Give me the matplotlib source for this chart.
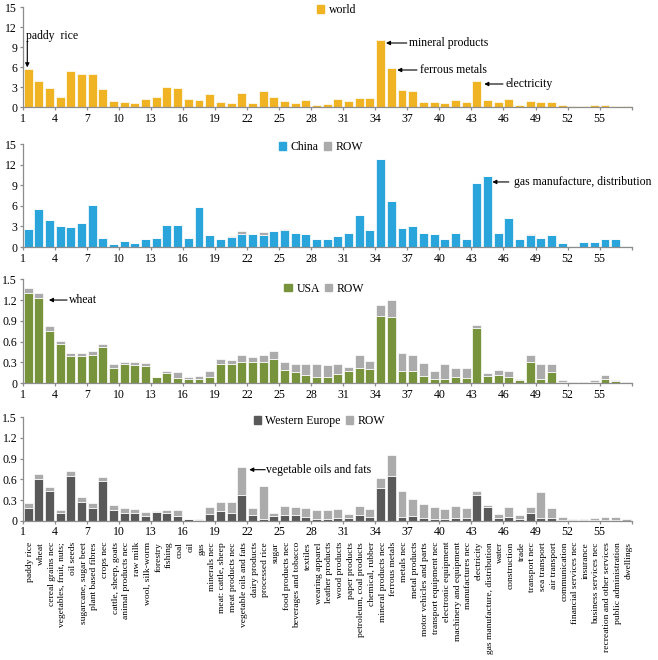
import numpy as np
import matplotlib
matplotlib.use("Agg")
from matplotlib import pyplot as plt
from matplotlib.patches import Patch
from matplotlib.transforms import blended_transform_factory

plt.rcParams['font.family'] = ['Liberation Serif', 'DejaVu Serif']

# 57 GTAP sectors
sectors = ["paddy rice", "wheat", "cereal grains nec", "vegetables, fruit, nuts;", "oil seeds",
           "sugarcane, sugar beet", "plant based fibres", "crops nec", "cattle, sheep, goats",
           "animal products nec", "raw milk", "wool, silk-worm", "forestry", "fishing", "coal",
           "oil", "gas", "minerals nec", "meat: cattle, sheep", "meat products nec",
           "vegetable oils and fats", "dairy products", "processed rice", "sugar",
           "food products nec", "beverages and tobacco", "textiles", "wearing apparel",
           "leather products", "wood products", "paper products", "petroleum, coal products",
           "chemical, rubber", "mineral products nec", "ferrous metals", "metals nec",
           "metal products", "motor vehicles and parts", "transport equipment nec",
           "electronic equipment", "machinery and equipment", "manufactures nec", "electricity",
           "gas manufacture, distribution", "water", "construction", "trade", "transport nec",
           "sea transport", "air transport", "communication", "financial services nec",
           "insurance", "business services nec", "recreation and other services",
           "public administration", "dwellings"]

world = [5.7, 3.9, 2.8, 1.5, 5.4, 5.0, 4.9, 2.7, 0.95, 0.7,
         0.65, 1.15, 1.55, 3.0, 2.8, 1.25, 1.0, 1.9, 0.8, 0.6,
         2.15, 0.6, 2.35, 1.5, 0.9, 0.65, 1.0, 0.35, 0.45, 1.25,
         0.9, 1.4, 1.3, 10.0, 5.9, 2.5, 2.35, 0.75, 0.75, 0.6,
         1.0, 0.75, 3.9, 1.0, 0.7, 1.15, 0.35, 0.95, 0.75, 0.75,
         0.3, 0.2, 0.2, 0.35, 0.3, 0.15, 0.1]

china = [2.6, 5.5, 4.0, 3.05, 2.85, 3.5, 6.1, 1.35, 0.5, 0.85,
         0.6, 1.2, 1.35, 3.2, 3.2, 1.3, 5.85, 1.7, 1.1, 1.5,
         1.9, 1.95, 1.8, 2.35, 2.45, 2.0, 1.9, 1.2, 1.2, 1.55,
         2.0, 4.65, 2.5, 12.85, 6.65, 2.8, 3.05, 2.0, 1.9, 1.1,
         2.1, 1.2, 9.3, 10.35, 2.1, 4.25, 1.15, 1.8, 1.3, 1.75,
         0.55, 0.2, 0.75, 0.75, 1.1, 1.1, 0.2]
china_row = [0, 0, 0, 0, 0, 0, 0, 0, 0, 0,
             0, 0, 0, 0, 0, 0, 0, 0, 0, 0.1,
             0.5, 0, 0.35, 0, 0.15, 0, 0, 0, 0, 0,
             0, 0, 0, 0, 0, 0, 0, 0, 0, 0.1,
             0, 0, 0, 0, 0, 0, 0, 0.1, 0, 0,
             0, 0, 0, 0, 0, 0, 0]

usa = [1.30, 1.23, 0.755, 0.56, 0.39, 0.39, 0.41, 0.52, 0.22, 0.27,
       0.26, 0.24, 0.08, 0.145, 0.07, 0.06, 0.063, 0.087, 0.28, 0.27,
       0.31, 0.31, 0.31, 0.34, 0.19, 0.16, 0.11, 0.08, 0.08, 0.135,
       0.18, 0.22, 0.20, 0.97, 0.96, 0.18, 0.17, 0.10, 0.06, 0.06,
       0.08, 0.07, 0.79, 0.10, 0.12, 0.09, 0.04, 0.31, 0.065, 0.16,
       0.01, 0.005, 0.005, 0.01, 0.06, 0.03, 0.0]
usa_row = [0.07, 0.07, 0.075, 0.05, 0.05, 0.04, 0.05, 0.04, 0.05, 0.04,
           0.04, 0.045, 0.0, 0.025, 0.095, 0.03, 0.034, 0.087, 0.06, 0.06,
           0.10, 0.06, 0.09, 0.12, 0.11, 0.12, 0.16, 0.19, 0.18, 0.145,
           0.05, 0.18, 0.12, 0.16, 0.24, 0.25, 0.23, 0.19, 0.12, 0.21,
           0.14, 0.15, 0.05, 0.045, 0.07, 0.09, 0.02, 0.10, 0.215, 0.11,
           0.03, 0.01, 0.01, 0.03, 0.06, 0.02, 0.01]

weur = [0.19, 0.60, 0.43, 0.11, 0.65, 0.275, 0.18, 0.58, 0.16, 0.115,
        0.115, 0.07, 0.13, 0.11, 0.07, 0.02, 0.015, 0.09, 0.145, 0.115,
        0.38, 0.08, 0.025, 0.075, 0.08, 0.08, 0.05, 0.02, 0.02, 0.04,
        0.035, 0.087, 0.053, 0.47, 0.65, 0.05, 0.063, 0.035, 0.03, 0.02,
        0.04, 0.035, 0.37, 0.20, 0.045, 0.06, 0.03, 0.115, 0.04, 0.045,
        0.01, 0.005, 0.005, 0.005, 0.01, 0.01, 0.0]
weur_row = [0.06, 0.08, 0.06, 0.045, 0.07, 0.065, 0.075, 0.06, 0.07, 0.075,
            0.055, 0.055, 0.015, 0.04, 0.08, 0.005, 0.01, 0.11, 0.12, 0.15,
            0.40, 0.10, 0.475, 0.04, 0.14, 0.115, 0.14, 0.135, 0.135, 0.125,
            0.065, 0.133, 0.12, 0.15, 0.31, 0.385, 0.25, 0.205, 0.17, 0.145,
            0.17, 0.155, 0.065, 0.035, 0.055, 0.14, 0.05, 0.085, 0.37, 0.135,
            0.045, 0.02, 0.025, 0.03, 0.045, 0.045, 0.02]

c_world = '#F0B323'
c_china = '#2AA5DC'
c_usa = '#77933C'
c_weur = '#595959'
c_row = '#ABABAB'
spine_c = '#8C8C8C'

n = len(sectors)
x = np.arange(n) + 0.5
W, H = 658, 660

fig = plt.figure(figsize=(W / 100, H / 100), dpi=100)


def make_ax(y_top, y_zero):
    left, right = 22.7, 631.7
    return fig.add_axes([left / W, 1 - y_zero / H, (right - left) / W, (y_zero - y_top) / H])


def style(ax, ymax, step, labels):
    ax.set_xlim(0, n)
    ax.set_ylim(0, ymax)
    for s in ['top', 'right']:
        ax.spines[s].set_visible(False)
    for s in ['left', 'bottom']:
        ax.spines[s].set_color(spine_c)
        ax.spines[s].set_linewidth(0.9)
    ax.set_yticks(np.arange(0, ymax + step / 2, step))
    ax.set_yticklabels(labels)
    xt = list(range(0, n + 1, 3))
    ax.set_xticks(xt)
    ax.set_xticklabels([str(t + 1) if t < n - 1 else '' for t in xt])
    ax.tick_params(axis='both', color=spine_c, length=2.5, width=0.9, labelsize=8.5, pad=1.5)


def bars(ax, vals, color, bottom=None):
    ax.bar(x, vals, width=0.84, bottom=bottom, color=color, edgecolor='white', linewidth=0.5)


def arrow(ax, tip, tail, text, tx, ty):
    ax.annotate('', xy=tip, xytext=tail,
                arrowprops=dict(arrowstyle='-|>', color='black', lw=0.8, mutation_scale=6,
                                shrinkA=0, shrinkB=0))
    ax.text(tx, ty, text, fontsize=8.5, va='center', ha='left')


def legend(ax, handles, labels, bx, by):
    ax.legend(handles, labels, loc='center', bbox_to_anchor=(bx, by), ncol=len(labels),
              frameon=False, handlelength=0.6, handleheight=0.6, handletextpad=0.4,
              columnspacing=0.4, fontsize=8.5, borderpad=0)


int_labels = ['0', '3', '6', '9', '12', '15']
dec_labels = ['0', '0.3', '0.6', '0.9', '1.2', '1.5']

# panel 1: world
ax1 = make_ax(7, 107)
bars(ax1, world, c_world)
style(ax1, 15, 3, int_labels)
legend(ax1, [Patch(color=c_world)], ['world'], 0.515, 0.97)
ax1.annotate('', xy=(0.43, 5.95), xytext=(0.43, 9.8),
             arrowprops=dict(arrowstyle='-|>', color='black', lw=0.8, mutation_scale=6,
                             shrinkA=0, shrinkB=0))
ax1.text(0.3, 10.6, 'paddy  rice', fontsize=8.5, va='center', ha='left')
arrow(ax1, (34.0, 9.6), (35.95, 9.6), 'mineral products', 36.15, 9.6)
arrow(ax1, (35.05, 5.55), (36.9, 5.55), 'ferrous metals', 37.15, 5.55)
arrow(ax1, (43.2, 3.45), (44.95, 3.45), 'electricity', 45.15, 3.45)

# panel 2: China
ax2 = make_ax(144.3, 247)
bars(ax2, china, c_china)
bars(ax2, china_row, c_row, bottom=china)
style(ax2, 15, 3, int_labels)
legend(ax2, [Patch(color=c_china), Patch(color=c_row)], ['China', 'ROW'], 0.49, 0.97)
arrow(ax2, (43.95, 9.5), (45.5, 9.5), 'gas manufacture, distribution', 45.95, 9.5)

# panel 3: USA
ax3 = make_ax(279.3, 383)
bars(ax3, usa, c_usa)
bars(ax3, usa_row, c_row, bottom=usa)
style(ax3, 1.5, 0.3, dec_labels)
legend(ax3, [Patch(color=c_usa), Patch(color=c_row)], ['USA', 'ROW'], 0.495, 0.91)
arrow(ax3, (2.45, 1.2), (4.15, 1.2), 'wheat', 4.35, 1.2)

# panel 4: Western Europe
ax4 = make_ax(417.3, 520.7)
bars(ax4, weur, c_weur)
bars(ax4, weur_row, c_row, bottom=weur)
style(ax4, 1.5, 0.3, dec_labels)
legend(ax4, [Patch(color=c_weur), Patch(color=c_row)], ['Western Europe', 'ROW'], 0.487, 0.965)
arrow(ax4, (21.2, 0.74), (22.7, 0.74), 'vegetable oils and fats', 22.75, 0.74)

# sector names under the last panel
trans = blended_transform_factory(ax4.transData, fig.transFigure)
for xi, name in zip(x, sectors):
    ax4.text(xi + 0.2, 1 - 542 / H, name, rotation=90, ha='center', va='top',
             fontsize=6.8, transform=trans, clip_on=False)

fig.savefig('out.png', dpi=100)
